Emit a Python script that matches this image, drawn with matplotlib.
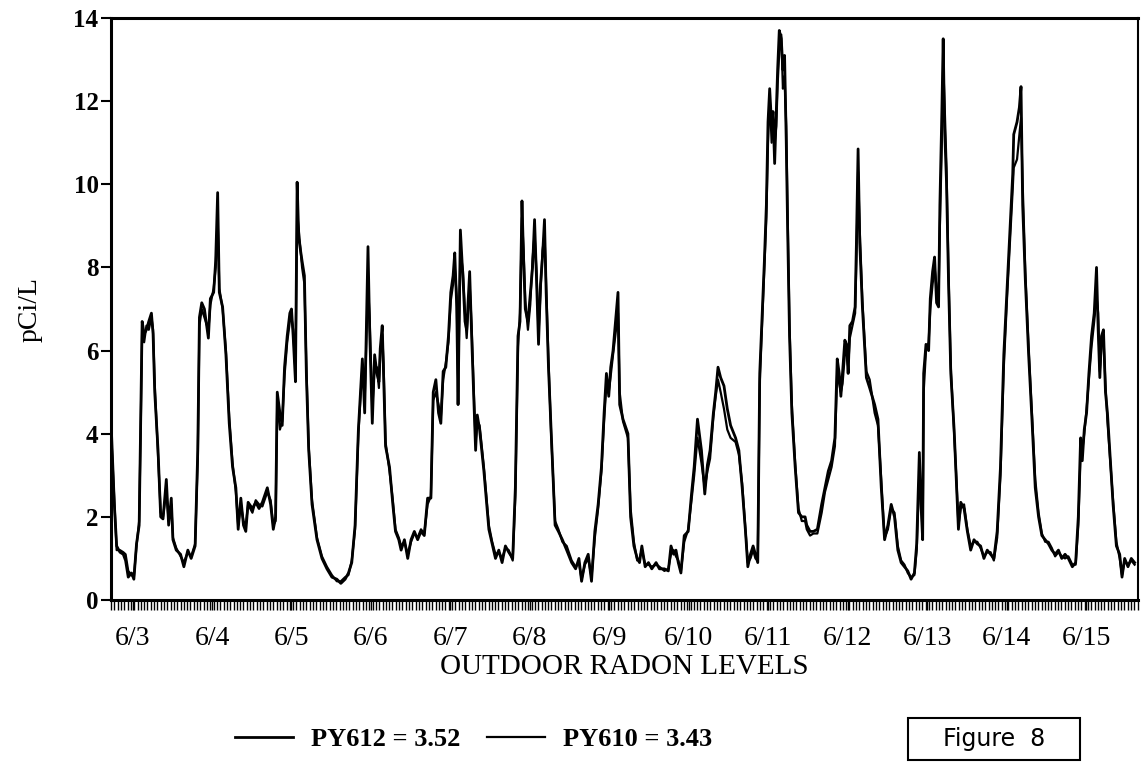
import numpy as np
import matplotlib
matplotlib.use("Agg")
import matplotlib.pyplot as plt
from matplotlib.patches import Rectangle

# hours since the start of the record (axis runs about 310 h)
hours = [
    0.0, 1.0, 1.7, 2.7, 3.7, 4.4, 5.2, 6.2, 6.9, 7.7,
    8.5, 9.0, 9.4, 10.0, 10.7, 11.4, 12.2, 12.7, 13.2, 14.2,
    15.0, 15.7, 16.7, 17.4, 18.2, 18.7, 19.7, 21.0, 22.0, 23.2,
    24.2, 25.4, 26.2, 26.7, 27.4, 28.2, 29.4, 30.0, 31.0, 31.6,
    32.2, 32.7, 33.7, 34.7, 35.7, 36.7, 37.7, 38.4, 39.2, 40.0,
    40.7, 41.4, 42.7, 43.7, 44.7, 45.7, 47.2, 48.2, 49.0, 49.7,
    50.2, 51.0, 51.7, 52.4, 53.2, 54.0, 54.5, 55.0, 55.7, 56.2,
    56.7, 57.7, 58.4, 59.0, 59.7, 60.7, 62.2, 63.7, 65.2, 66.7,
    68.2, 69.4, 70.7, 71.7, 72.7, 73.7, 74.7,
    75.9, 76.6, 77.1, 77.6, 78.1, 78.9, 79.6, 80.3, 80.9, 81.3,
    81.9, 82.3, 82.9, 84.1, 85.1, 85.9, 86.9, 87.6, 88.6, 89.6,
    90.6, 91.6, 92.6, 93.6, 94.6, 95.6, 96.6, 97.3, 98.1, 98.9,
    99.6, 100.3, 101.1, 101.9, 102.6, 103.3, 103.8, 104.4, 104.8, 105.5,
    106.3, 106.9, 107.4, 108.3, 108.9, 109.6, 110.1, 110.6, 111.3, 112.6,
    114.1, 115.1, 116.1, 117.1, 118.1, 119.1, 120.1, 121.3, 122.1, 122.9,
    123.5, 124.1, 124.6, 125.1, 125.9, 126.6, 127.3, 127.9, 128.5, 129.1,
    129.7, 130.3, 130.9, 131.4, 132.1, 132.9, 134.1, 135.1, 136.3, 137.6,
    139.1, 140.3, 141.3, 142.1, 143.1, 144.1, 145.1, 146.1, 147.1, 148.1,
    148.9, 149.6, 150.3, 150.9, 151.6,
    153.1, 153.6, 154.6, 156.1, 156.9, 157.9, 158.9, 159.6, 160.3, 161.3,
    162.3, 163.3, 164.6, 165.6, 167.1, 168.3, 169.1, 169.9, 170.6, 171.3,
    172.1, 173.1, 174.3, 175.3, 176.1, 177.1, 178.3, 179.3, 180.1, 180.9,
    181.9, 182.6, 183.3, 184.1, 185.1, 186.1, 187.1, 188.6, 189.6, 190.6,
    191.6, 192.3, 193.1, 193.9, 194.6, 195.3, 195.9, 196.6, 197.3, 197.9,
    198.4, 198.9, 199.5, 199.9, 200.4, 200.9, 201.3, 201.8, 202.4, 202.9,
    203.4, 203.9, 204.3, 204.9, 205.6, 206.6, 207.6, 208.6, 209.6, 210.1,
    211.1, 212.1, 213.3, 214.6, 215.6, 216.6, 217.6, 218.6, 219.3, 219.9,
    220.4, 220.9, 221.6, 222.1, 222.6, 223.1, 223.9, 224.7, 225.1, 225.6,
    226.1, 226.9, 228.1,
    229.1, 230.6, 231.6, 232.6, 233.6, 234.6, 235.6, 236.6, 237.6, 238.6,
    239.6, 240.6, 241.6, 242.6, 243.3, 244.1, 244.6, 245.1, 245.4, 246.1,
    246.9, 247.4, 248.1, 248.7, 249.3, 249.9, 250.3, 250.9, 251.3, 251.7,
    252.3, 252.9, 253.6, 254.6, 255.3, 255.9, 256.6, 257.6, 258.6, 259.6,
    260.6, 261.6, 262.6, 263.6, 264.6, 265.6, 266.6, 267.6, 268.6, 269.6,
    270.6, 271.6, 272.3, 272.6, 273.6, 274.3, 274.8, 275.3, 276.1, 277.1,
    278.1, 279.1, 280.1, 281.1, 282.1, 283.1, 284.1, 285.1, 286.1, 287.1,
    288.1, 289.1, 290.3, 291.3, 292.1, 292.8, 293.3, 293.9, 294.6, 295.3,
    296.1, 296.9, 297.6, 298.1, 298.6, 299.1, 299.7, 300.3, 300.9, 301.6,
    302.6, 303.6, 304.6, 305.3, 306.1, 307.1, 308.1, 309.1,
]

py612 = [
    4.3, 2.3, 1.3, 1.15, 1.1, 0.95, 0.55, 0.65, 0.5, 1.35,
    1.8, 4.5, 6.7, 6.4, 6.5, 6.7, 6.9, 6.4, 5.0, 3.6,
    2.0, 1.95, 2.9, 1.8, 2.45, 1.45, 1.2, 1.1, 0.8, 1.2,
    1.0, 1.3, 3.6, 6.8, 7.15, 7.0, 6.3, 7.25, 7.4, 8.15,
    9.8, 7.4, 7.05, 5.9, 4.25, 3.2, 2.7, 1.7, 2.45, 1.8,
    1.65, 2.35, 2.2, 2.35, 2.2, 2.35, 2.7, 2.3, 1.7, 2.0,
    5.0, 4.5, 4.2, 5.6, 6.35, 6.9, 7.0, 6.35, 5.25, 10.05,
    8.7, 8.15, 7.8, 5.4, 3.6, 2.3, 1.45, 1.0, 0.75, 0.55,
    0.5, 0.4, 0.5, 0.65, 0.9, 1.8, 4.1,
    5.8, 4.5, 6.5, 8.5, 6.5, 4.25, 5.9, 5.45, 5.25, 6.05,
    6.6, 5.45, 3.7, 3.2, 2.3, 1.65, 1.45, 1.2, 1.45, 1.0,
    1.45, 1.65, 1.45, 1.65, 1.55, 2.45, 2.45, 5.0, 5.3, 4.5,
    4.25, 5.5, 5.6, 6.35, 7.4, 7.8, 8.35, 7.05, 4.7, 8.9,
    7.7, 6.7, 6.5, 7.9, 6.35, 4.7, 3.6, 4.45, 4.1, 3.1,
    1.7, 1.35, 1.0, 1.2, 0.9, 1.3, 1.15, 1.0, 2.7, 6.35,
    6.7, 9.6, 8.15, 7.0, 6.7, 7.35, 8.0, 9.15, 7.7, 6.15,
    7.6, 8.25, 9.15, 7.4, 5.6, 4.1, 1.8, 1.65, 1.45, 1.2,
    0.9, 0.75, 1.0, 0.45, 0.9, 1.1, 0.45, 1.65, 2.3, 3.2,
    4.5, 5.45, 4.9, 5.6, 6.0,
    7.4, 4.7, 4.35, 4.0, 2.0, 1.3, 1.0, 0.9, 1.3, 0.8,
    0.9, 0.75, 0.9, 0.75, 0.75, 0.7, 1.3, 1.1, 1.2, 0.9,
    0.65, 1.55, 1.65, 2.55, 3.2, 4.35, 3.6, 2.55, 3.25, 3.6,
    4.5, 5.0, 5.6, 5.35, 5.15, 4.6, 4.2, 3.9, 3.6, 2.7,
    1.65, 0.8, 1.1, 1.3, 1.1, 0.9, 5.45, 6.8, 8.15, 9.5,
    11.5, 12.3, 11.4, 11.75, 10.5, 11.75, 12.75, 13.7, 13.5, 12.75,
    13.1, 11.05, 9.05, 6.35, 4.5, 3.2, 2.1, 2.0, 2.0, 1.8,
    1.65, 1.65, 1.7, 2.3, 2.7, 3.1, 3.35, 3.9, 5.8, 5.45,
    4.9, 5.45, 6.25, 6.15, 5.45, 6.6, 6.7, 7.05, 8.6, 10.85,
    8.6, 7.05, 5.35,
    5.1, 4.7, 4.35, 2.7, 1.45, 1.8, 2.3, 2.0, 1.2, 0.9,
    0.8, 0.7, 0.5, 0.65, 1.35, 3.55, 2.3, 1.45, 5.45, 6.15,
    6.0, 7.25, 7.9, 8.25, 7.15, 7.05, 9.5, 11.75, 13.5, 11.4,
    10.05, 7.7, 5.45, 4.1, 2.8, 1.7, 2.35, 2.2, 1.65, 1.2,
    1.45, 1.35, 1.3, 1.0, 1.2, 1.1, 1.0, 1.65, 3.2, 5.9,
    7.5, 9.05, 10.25, 11.2, 11.5, 11.85, 12.35, 9.5, 7.7, 5.9,
    4.35, 2.7, 2.0, 1.55, 1.45, 1.35, 1.2, 1.1, 1.2, 1.0,
    1.1, 1.0, 0.8, 0.9, 2.0, 3.9, 3.35, 4.1, 4.5, 5.45,
    6.35, 6.9, 8.0, 6.5, 5.35, 6.35, 6.5, 5.0, 4.5, 3.6,
    2.3, 1.3, 1.1, 0.55, 1.0, 0.8, 1.0, 0.9,
]

py610 = [
    4.1, 2.4, 1.2, 1.2, 1.15, 1.1, 0.7, 0.6, 0.55, 1.3,
    1.9, 4.3, 6.5, 6.2, 6.6, 6.5, 6.8, 6.5, 5.2, 3.5,
    2.1, 2.0, 2.6, 1.9, 2.3, 1.5, 1.25, 1.05, 0.9, 1.15,
    1.05, 1.35, 3.4, 6.6, 7.0, 6.8, 6.5, 7.1, 7.5, 8.0,
    9.2, 7.5, 7.0, 6.0, 4.4, 3.3, 2.6, 1.8, 2.3, 1.9,
    1.8, 2.3, 2.1, 2.4, 2.3, 2.25, 2.6, 2.4, 1.8, 1.9,
    4.8, 4.1, 4.3, 5.4, 6.2, 6.7, 6.8, 6.5, 5.5, 9.3,
    8.9, 8.0, 7.6, 5.6, 3.7, 2.4, 1.5, 1.05, 0.8, 0.6,
    0.45, 0.45, 0.55, 0.6, 0.95, 1.7, 4.0,
    5.6, 4.8, 6.2, 7.6, 6.8, 4.6, 5.6, 5.6, 5.1, 5.9,
    6.4, 5.7, 3.8, 3.1, 2.4, 1.7, 1.5, 1.3, 1.4, 1.1,
    1.4, 1.6, 1.5, 1.7, 1.6, 2.3, 2.5, 4.8, 5.0, 4.7,
    4.4, 5.3, 5.7, 6.2, 7.2, 7.6, 8.0, 7.3, 5.0, 8.4,
    7.9, 6.9, 6.3, 7.6, 6.6, 4.9, 3.8, 4.3, 4.2, 3.2,
    1.8, 1.4, 1.1, 1.15, 1.0, 1.25, 1.2, 0.95, 2.5, 6.1,
    6.9, 9.2, 8.4, 7.2, 6.5, 7.1, 8.2, 8.8, 7.9, 6.4,
    7.4, 8.4, 8.8, 7.6, 5.8, 4.0, 1.9, 1.7, 1.4, 1.3,
    0.95, 0.8, 0.9, 0.5, 0.85, 1.0, 0.55, 1.5, 2.2, 3.1,
    4.3, 5.2, 5.0, 5.4, 5.9,
    6.9, 5.0, 4.3, 3.9, 2.2, 1.4, 0.95, 1.0, 1.2, 0.85,
    0.85, 0.8, 0.85, 0.8, 0.7, 0.75, 1.1, 1.2, 1.05, 0.95,
    0.7, 1.4, 1.7, 2.4, 3.0, 3.9, 3.3, 2.7, 3.1, 3.4,
    4.4, 4.9, 5.3, 5.0, 4.6, 4.1, 3.9, 3.8, 3.5, 2.8,
    1.7, 0.9, 1.0, 1.2, 1.0, 0.95, 5.2, 6.6, 8.0, 9.2,
    11.0, 12.1, 11.0, 11.5, 11.0, 11.4, 12.4, 13.2, 13.6, 12.3,
    12.6, 11.4, 9.4, 6.6, 4.7, 3.3, 2.2, 1.9, 1.9, 1.7,
    1.55, 1.6, 1.6, 2.1, 2.6, 2.9, 3.2, 3.7, 5.5, 5.2,
    5.0, 5.2, 5.9, 6.0, 5.6, 6.3, 6.6, 6.9, 8.2, 10.3,
    8.9, 7.2, 5.5,
    5.3, 4.5, 4.2, 2.9, 1.5, 1.7, 2.2, 2.1, 1.3, 0.95,
    0.85, 0.65, 0.55, 0.6, 1.2, 3.0, 2.6, 1.5, 5.0, 6.0,
    6.2, 7.0, 7.6, 8.0, 7.5, 7.3, 9.0, 11.0, 12.9, 12.0,
    10.4, 7.9, 5.6, 4.0, 2.9, 1.8, 2.2, 2.3, 1.7, 1.3,
    1.4, 1.4, 1.25, 1.05, 1.15, 1.15, 0.95, 1.5, 3.0, 5.6,
    7.3, 8.8, 9.9, 10.4, 10.6, 11.2, 11.6, 10.0, 7.9, 6.1,
    4.5, 2.9, 2.1, 1.6, 1.4, 1.4, 1.25, 1.05, 1.15, 1.05,
    1.0, 1.05, 0.85, 0.85, 1.8, 3.5, 3.6, 4.0, 4.6, 5.3,
    6.1, 6.7, 7.3, 6.9, 5.5, 6.1, 6.3, 5.2, 4.3, 3.5,
    2.4, 1.4, 1.0, 0.6, 0.95, 0.85, 0.95, 0.85,
]

day_labels = ["6/3", "6/4", "6/5", "6/6", "6/7", "6/8", "6/9",
              "6/10", "6/11", "6/12", "6/13", "6/14", "6/15"]
day_pos = [6.5 + 24 * i for i in range(len(day_labels))]
mean612 = 3.52
mean610 = 3.43

serif = "Liberation Serif"

fig = plt.figure(figsize=(11.41, 7.66), dpi=100)
ax = fig.add_axes([0.0973, 0.2167, 0.8997, 0.7598])

l1, = ax.plot(hours, py612, color="black", lw=2.0, label=f"PY612 = {mean612:.2f}")
l2, = ax.plot(hours, py610, color="black", lw=1.6, label=f"PY610 = {mean610:.2f}")

ax.set_xlim(0, 310)
ax.set_ylim(0, 14)

ax.set_yticks(range(0, 15, 2))
ax.set_yticklabels([str(v) for v in range(0, 15, 2)], fontsize=18, fontweight="bold", family=serif)
ax.tick_params(axis="y", direction="out", length=7, width=1.5, pad=2)

ax.set_xticks(day_pos)
ax.set_xticklabels(day_labels, fontsize=20, family=serif)
ax.set_xticks(np.arange(0, 311, 1), minor=True)
ax.tick_params(axis="x", which="major", direction="out", length=7, width=1.0, pad=12)
ax.tick_params(axis="x", which="minor", direction="out", length=7, width=1.0)

for side in ["left", "bottom", "top"]:
    ax.spines[side].set_linewidth(2.2)
ax.spines["right"].set_linewidth(1.5)

ax.set_xlabel("OUTDOOR RADON LEVELS", fontsize=21, family=serif, labelpad=2)
ax.set_ylabel("pCi/L", fontsize=20, family=serif, labelpad=22)

fig.legend(handles=[l1, l2], loc="center", bbox_to_anchor=(0.415, 0.035), ncol=2,
           frameon=False, handlelength=2.2, handletextpad=0.7, columnspacing=1.0,
           prop={"family": serif, "weight": "bold", "size": 19})

fig.patches.append(Rectangle((0.7958, 0.0078), 0.1507, 0.0548, transform=fig.transFigure,
                             fill=False, edgecolor="black", lw=1.5))
fig.text(0.871, 0.035, "Figure  8", ha="center", va="center", fontsize=17, family="DejaVu Sans")

fig.savefig("out.png", dpi=100)
